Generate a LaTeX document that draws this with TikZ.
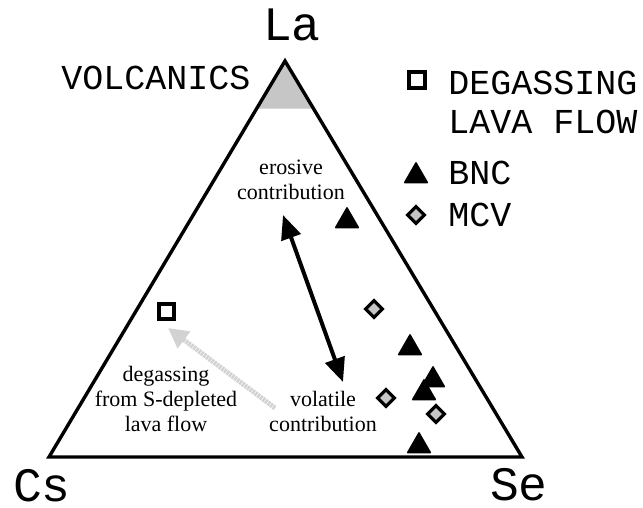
\documentclass[tikz,border=0pt]{standalone}
\usepackage{fontspec}
\setmainfont{Liberation Serif}
\newfontfamily\typew{Liberation Mono}
\usetikzlibrary{arrows.meta, calc, shapes.geometric}
\tikzset{
    apexlbl/.style={font=\typew\fontsize{24}{25}\selectfont, inner sep=0pt},
    keylbl/.style={font=\typew\fontsize{17.5}{19.5}\selectfont, inner sep=0pt,
        anchor=west, align=left},
    note/.style={font=\fontsize{11}{12.5}\selectfont, align=center, inner sep=0pt},
    bnc/.style={regular polygon, regular polygon sides=3, fill=black, draw,
        line width=0.8pt, line join=round, inner sep=0pt, minimum size=13pt},
    mcv/.style={diamond, draw, line width=1.6pt, fill=gray!45,
        inner sep=0pt, minimum size=9pt},
    lava/.style={rectangle, draw, line width=2pt, fill=white,
        inner sep=0pt, minimum size=7.5pt},
    trend/.style={line width=2pt,
        {Triangle[length=12pt, width=10pt]}-{Triangle[length=12pt, width=10pt]}},
    loss/.style={line width=2.4pt, draw=gray!35, dash pattern=on 1.2pt off 0.4pt,
        -{Triangle[length=10pt, width=10pt, fill=gray!35]}},
}
\begin{document}
\begin{tikzpicture}[x=0.5pt, y=-0.5pt]
    \useasboundingbox (0,0) rectangle (643,508);

    % ternary frame
    \coordinate (la) at (285,61);
    \coordinate (cs) at (49,457);
    \coordinate (se) at (522,457);
    \fill[gray!45] (la) -- ($(la)!0.12!(cs)$) -- ($(la)!0.12!(se)$) -- cycle;
    \draw[line width=1.7pt, line join=miter] (la) -- (cs) -- (se) -- cycle;

    \node[apexlbl] (lalbl) at (292,25) {La};
    \node[apexlbl] (cslbl) at (42,486) {Cs};
    \node[apexlbl] (selbl) at (519,485) {Se};
    \node[keylbl, anchor=center] (volc) at (156,78) {VOLCANICS};

    % legend
    \node[lava, minimum size=8pt] (keylava) at (417,80) {};
    \node[keylbl] (txtlava) at (448,102) {DEGASSING\\LAVA FLOW};
    \node[bnc] (keybnc) at (416,176) {};
    \node[keylbl] (txtbnc) at (448,173) {BNC};
    \node[mcv] (keymcv) at (416,215) {};
    \node[keylbl] (txtmcv) at (448,215) {MCV};

    % samples
    \node[lava] (flow) at (166,311) {};
    \foreach \x/\y [count=\n] in {347/221, 410/348, 433/380, 424/393, 419/446}
        \node[bnc] (b\n) at (\x,\y) {};
    \foreach \x/\y [count=\n] in {374/309, 386/398, 436/414}
        \node[mcv] (m\n) at (\x,\y) {};

    % trends
    \node[note] (ero) at (291,180) {erosive\\contribution};
    \node[note] (vol) at (323,411) {volatile\\contribution};
    \node[note] (dgs) at (166,399) {degassing\\from S-depleted\\lava flow};
    \coordinate (erotip) at (283,215);
    \coordinate (voltip) at (343,382);
    \draw[trend] (erotip) -- (voltip);
    \coordinate (losstail) at (275,408);
    \coordinate (losstip) at (168,328);
    \draw[loss] (losstail) -- (losstip);
\end{tikzpicture}
\end{document}
